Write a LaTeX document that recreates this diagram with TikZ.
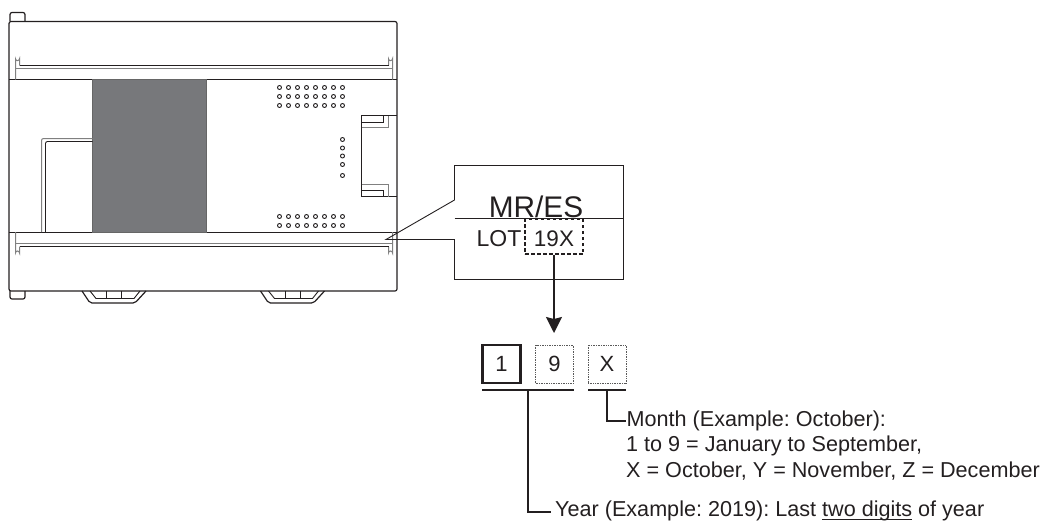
\documentclass[tikz,border=0pt]{standalone}
\usepackage{fontspec}
\setmainfont{Liberation Sans}
\usetikzlibrary{arrows.meta,positioning}
\definecolor{panelgray}{HTML}{77787B}
\definecolor{inkgray}{HTML}{231F20}
\newcommand{\lineunder}[1]{\setbox0\hbox{#1}\rlap{\rule[-3.1pt]{\wd0}{1.1pt}}\box0\relax}

\begin{document}
\begin{tikzpicture}[
  x=1pt, y=-1pt,
  outline/.style={draw=inkgray, line width=1.2pt, line join=round},
  thin line/.style={draw=inkgray, line width=.9pt},
  slot/.style={draw=black!50, line width=1pt},
  dot/.style={draw=inkgray, line width=.9pt, fill=white},
  digit/.style={minimum width=38pt, minimum height=38pt, inner sep=0pt, text=inkgray, font=\fontsize{22}{22}\selectfont},
  leader/.style={draw=inkgray, line width=1.8pt},
  note/.style={anchor=base west, inner sep=0pt, text=inkgray, font=\fontsize{21.6}{24}\selectfont\frenchspacing}
]
  \useasboundingbox (0,0) rectangle (1047,520);

  % unit body
  \draw[outline, rounded corners=2pt] (9,21.5) -- (397,21.5) -- (397,291) -- (9,291) -- cycle;
  \draw[outline, rounded corners=2pt] (10,21) -- (10,12.5) -- (25,12.5) -- (25,21);
  \draw[outline, rounded corners=2pt] (10,291) -- (10,299) -- (25,299) -- (25,291);
  \draw[thin line] (9,79.5) -- (397,79.5);
  \draw[thin line] (9,232.5) -- (397,232.5);

  % upper and lower slots
  \draw[slot] (15.5,79.5) -- (15.5,58.7) arc (180:0:2) -- (19.5,65.5);
  \draw[slot] (388.5,65.5) -- (388.5,58.7) arc (180:0:2) -- (392.5,79.5);
  \draw[slot] (15.5,68.5) -- (392.5,68.5);
  \draw[slot] (15.5,232) -- (15.5,253) arc (180:360:2) -- (19.5,246.5);
  \draw[slot] (388.5,246.5) -- (388.5,253) arc (180:360:2) -- (392.5,232);
  \draw[slot] (15.5,243.5) -- (392.5,243.5);
  \draw[thin line] (19.5,65.5) -- (388.5,65.5);
  \draw[thin line] (19.5,246.5) -- (388.5,246.5);

  % dark panel and left bracket
  \draw[draw=black!60, line width=.8pt, fill=panelgray] (92.5,79.5) rectangle (206,232.5);
  \draw[slot, rounded corners=2pt] (41.5,232) -- (41.5,138.5) -- (92.5,138.5);
  \draw[thin line, rounded corners=2pt] (45.5,232) -- (45.5,141.5) -- (92.5,141.5);

  % LED dots
  \foreach \col in {0,...,7} {
    \foreach \row in {87.5,96.5,105.5,216.5,225.5}
      \draw[dot] (279.5+9*\col,\row) circle (2);
  }
  \foreach \row in {139.5,148,156,164.5,175.5}
    \draw[dot] (342.5,\row) circle (2);

  % connector cover
  \draw[thin line] (397,115.5) -- (361.5,115.5) -- (361.5,196.5) -- (397,196.5);
  \draw[thin line] (361.5,122.5) -- (383.5,122.5) -- (383.5,115.5);
  \draw[slot] (361.5,127.5) -- (388.5,127.5) -- (388.5,115.5);
  \draw[thin line] (361.5,190.5) -- (383.5,190.5) -- (383.5,196.5);
  \draw[slot] (361.5,184.5) -- (388.5,184.5) -- (388.5,196.5);

  % feet
  \foreach \x in {0,178.5} {
    \draw[outline, rounded corners=2pt] (82+\x,291) -- (90+\x,303) -- (135+\x,303) -- (146+\x,291);
    \draw[thin line] (90+\x,291) -- (96+\x,298.5) -- (134+\x,298.5) -- (140+\x,291);
    \draw[thin line] (106.5+\x,291) -- (106.5+\x,298.5);
    \draw[thin line] (121.5+\x,291) -- (121.5+\x,298.5);
  }

  % callout
  \coordinate (tip) at (386,239.5);
  \coordinate (calloutA) at (454.5,200);
  \coordinate (calloutB) at (454.5,239.5);
  \coordinate (midL) at (454.5,218.5);
  \coordinate (midR) at (623.5,218.5);
  \draw[thin line] (calloutA) -- (454.5,165.5) -- (623.5,165.5) -- (623.5,279.5) -- (454.5,279.5) -- (calloutB) -- (tip) -- (calloutA);
  \draw[thin line] (midL) -- (midR);
  \node[anchor=base, inner sep=0pt, font=\fontsize{29.8}{30}\selectfont, text=inkgray] (model) at (536,217.3) {MR/ES};
  \node[anchor=base east, inner sep=0pt, font=\fontsize{23}{23}\selectfont, text=inkgray] (lot) at (521.5,246.7) {LOT};
  \node[draw=inkgray, line width=1.6pt, dash pattern=on 3.5pt off 2.5pt, minimum width=58pt, text height=27.7pt, text depth=7.3pt,
        inner sep=0pt, font=\fontsize{22.5}{23}\selectfont, text=inkgray] (serial) at (554,236.5) {19X};

  % digits
  \node[digit, draw=inkgray, line width=2.4pt] (year1) at (501.5,364) {1};
  \node[digit, draw=black!65, densely dotted, line width=.7pt] (year2) at (554.5,364) {9};
  \node[digit, draw=black!65, densely dotted, line width=.7pt] (month) at (607,364) {X};
  \draw[-{Stealth[length=16pt,width=16pt,inset=2pt]}, leader] (serial.south) -- (554,333);

  \coordinate (barYa) at (482,390);
  \coordinate (barYb) at (574,390);
  \coordinate (barMa) at (588,390);
  \coordinate (barMb) at (626,390);
  \draw[leader] (barYa) -- (barYb);
  \draw[leader] (barMa) -- (barMb);

  % notes
  \node[note] (monthnote) at (626.5,426) {Month (Example: October):};
  \node[note] (monthnoteb) at (626,451.7) {1 to 9 = January to September,};
  \node[note] (monthnotec) at (626,477) {X = October, Y = November, Z = December};
  \node[note] (yearnote) at (555,516.7) {Year (Example: 2019): Last \lineunder{two digits} of year};
  \coordinate (monthend) at (626,421);
  \coordinate (yearend) at (551,512);
  \draw[leader] (607,390) |- (monthend);
  \draw[leader] (528,390) |- (yearend);
\end{tikzpicture}
\end{document}
